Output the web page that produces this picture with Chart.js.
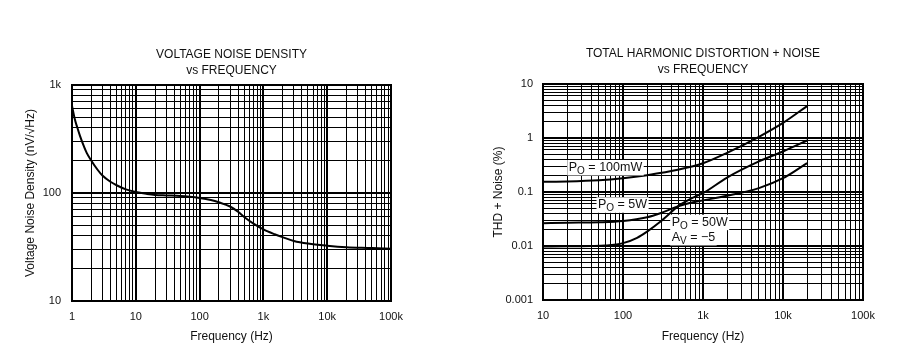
<!DOCTYPE html>
<html><head><meta charset="utf-8">
<script src="https://cdn.jsdelivr.net/npm/chart.js@4"></script>
<style>
html,body{margin:0;padding:0;background:#fff;}
#wrap{position:relative;width:912px;height:356px;overflow:hidden;background:#fff;}
.c{position:absolute;top:0;width:456px;height:356px;}
</style></head><body>
<div id="wrap">
<div class="c" style="left:0"><canvas id="noise" width="456" height="356"></canvas></div>
<div class="c" style="left:456px"><canvas id="thd" width="456" height="356"></canvas></div>
</div>
<script>
// ---------- DATA ----------
const noiseFreq    = [1, 1.1, 1.2, 1.33, 1.5, 1.7, 2, 2.5, 3, 4, 5, 7, 10, 15, 20, 30, 50, 70, 100, 150, 200, 300, 400, 500, 700, 1000, 1500, 2000, 3000, 5000, 10000, 20000, 50000, 100000];
const noiseDensity = [640, 490, 410, 340, 280, 235, 200, 165, 145, 127, 118, 108, 102, 98, 96, 95, 94, 92.5, 90, 86, 82, 75, 67, 60, 52, 46, 41.5, 39, 36, 34, 32.5, 31.5, 31, 30.5];

const thdFreq100mW = [10, 20, 50, 100, 200, 500, 1000, 2000, 5000, 10000, 20000];
const thd100mW     = [0.155, 0.157, 0.165, 0.18, 0.205, 0.26, 0.34, 0.53, 1.05, 1.9, 3.9];
const thdFreq5W    = [10, 20, 50, 100, 200, 300, 500, 700, 1000, 2000, 5000, 10000, 20000];
const thd5W        = [0.0265, 0.027, 0.0275, 0.029, 0.034, 0.041, 0.055, 0.063, 0.07, 0.085, 0.118, 0.18, 0.343];
const thdFreq50W   = [10, 20, 40, 60, 100, 150, 200, 300, 500, 700, 1000, 2000, 5000, 10000, 20000];
const thd50W       = [0.0098, 0.0099, 0.01, 0.0102, 0.0113, 0.0142, 0.0185, 0.029, 0.056, 0.075, 0.095, 0.185, 0.368, 0.563, 0.90];

const noiseXTicks  = [1, 10, 100, 1000, 10000, 100000];
const noiseXLabels = ['1', '10', '100', '1k', '10k', '100k'];
const noiseYTicks  = [10, 100, 1000];
const noiseYLabels = ['10', '100', '1k'];
const thdXTicks    = [10, 100, 1000, 10000, 100000];
const thdXLabels   = ['10', '100', '1k', '10k', '100k'];
const thdYTicks    = [0.001, 0.01, 0.1, 1, 10];
const thdYLabels   = ['0.001', '0.01', '0.1', '1', '10'];

const noiseTitle = ['VOLTAGE NOISE DENSITY', 'vs FREQUENCY'];
const thdTitle   = ['TOTAL HARMONIC DISTORTION + NOISE', 'vs FREQUENCY'];

const thdLabels = [
  {main: 'P', sub: 'O', rest: ' = 100mW', f: 21,   v: 0.245},
  {main: 'P', sub: 'O', rest: ' = 5W',    f: 48.7, v: 0.0499},
  {main: 'P', sub: 'O', rest: ' = 50W',   f: 406,  v: 0.0238},
  {main: 'A', sub: 'V', rest: ' = \u22125', f: 406, v: 0.0124}
];

// ---------- HELPERS ----------
const FONT = '"Liberation Sans", Arial, Helvetica, sans-serif';
Chart.defaults.font.family = FONT;
Chart.defaults.color = '#111';

function isDecade(v) {
  if (!(v > 0)) return false;
  const l = Math.log10(v);
  return Math.abs(l - Math.round(l)) < 1e-9;
}
function logGrid(min, max) {
  const out = [];
  for (let e = Math.round(Math.log10(min)); e < Math.round(Math.log10(max)); e++) {
    for (let m = 1; m <= 9; m++) out.push(parseFloat((m * Math.pow(10, e)).toPrecision(6)));
  }
  out.push(max);
  return out;
}
function labelFor(values, labels) {
  return (v) => {
    for (let i = 0; i < values.length; i++) {
      if (Math.abs(Math.log10(v) - Math.log10(values[i])) < 1e-9) return labels[i];
    }
    return '';
  };
}

const framePlugin = {
  id: 'frame',
  afterDatasetsDraw(chart) {
    const a = chart.chartArea, ctx = chart.ctx;
    ctx.save();
    ctx.strokeStyle = '#000';
    ctx.lineWidth = 2;
    ctx.strokeRect(Math.round(a.left), Math.round(a.top), Math.round(a.right - a.left), Math.round(a.bottom - a.top));
    ctx.restore();
  }
};
const titlePlugin = {
  id: 'twoLineTitle',
  afterDraw(chart, args, opts) {
    const a = chart.chartArea, ctx = chart.ctx;
    const cx = (a.left + a.right) / 2;
    ctx.save();
    ctx.fillStyle = '#111';
    ctx.font = '12px ' + FONT;
    ctx.textAlign = 'center';
    ctx.textBaseline = 'middle';
    opts.lines.forEach((t, i) => ctx.fillText(t, cx, a.top - 30 + i * 15.5));
    ctx.restore();
  }
};
const subLabelPlugin = {
  id: 'subLabels',
  afterDatasetsDraw(chart, args, opts) {
    if (!opts.items) return;
    const ctx = chart.ctx, xs = chart.scales.x, ys = chart.scales.y;
    ctx.save();
    opts.items.forEach(it => {
      const x = xs.getPixelForValue(it.f);
      const yb = ys.getPixelForValue(it.v);
      ctx.font = '12.5px ' + FONT;
      const w1 = ctx.measureText(it.main).width;
      const w3 = ctx.measureText(it.rest).width;
      ctx.font = '10px ' + FONT;
      const w2 = ctx.measureText(it.sub).width;
      const w = w1 + w2 + w3;
      ctx.fillStyle = '#fff';
      ctx.fillRect(x - 1.5, yb - 11, w + 3, 15.5);
      ctx.fillStyle = '#111';
      ctx.textBaseline = 'alphabetic';
      ctx.textAlign = 'left';
      ctx.font = '12.5px ' + FONT;
      ctx.fillText(it.main, x, yb);
      ctx.font = '10px ' + FONT;
      ctx.fillText(it.sub, x + w1, yb + 3);
      ctx.font = '12.5px ' + FONT;
      ctx.fillText(it.rest, x + w1 + w2, yb);
    });
    ctx.restore();
  }
};

function gridOpts() {
  return {
    color: '#000',
    lineWidth: (c) => (c.tick && isDecade(c.tick.value)) ? 2 : 1,
    drawTicks: false
  };
}

function makeChart(id, cfg) {
  const datasets = cfg.series.map(s => ({
    data: s.x.map((f, i) => ({x: f, y: s.y[i]})),
    borderColor: '#000',
    borderWidth: 2,
    pointRadius: 0,
    fill: false,
    cubicInterpolationMode: 'monotone'
  }));
  return new Chart(document.getElementById(id), {
    type: 'line',
    data: {datasets},
    plugins: [framePlugin, titlePlugin, subLabelPlugin],
    options: {
      responsive: false,
      animation: false,
      devicePixelRatio: 1,
      layout: {padding: {left: 0, right: cfg.padRight, top: cfg.padTop, bottom: 0}},
      plugins: {
        legend: {display: false},
        tooltip: {enabled: false},
        twoLineTitle: {lines: cfg.title},
        subLabels: {items: cfg.labels}
      },
      scales: {
        x: {
          type: 'logarithmic',
          min: cfg.xMin, max: cfg.xMax,
          grid: gridOpts(),
          border: {display: true, color: '#000', width: 2},
          afterBuildTicks: (s) => { s.ticks = logGrid(cfg.xMin, cfg.xMax).map(v => ({value: v, major: isDecade(v)})); },
          ticks: {autoSkip: false, maxRotation: 0, minRotation: 0, padding: 9, font: {size: 11}, color: '#111',
                  callback: labelFor(cfg.xTicks, cfg.xLabels)},
          title: {display: true, text: 'Frequency (Hz)', color: '#111', font: {size: 12}, padding: {top: 0, bottom: 12}},
          afterFit: (s) => { s.height = cfg.xHeight; s.paddingLeft = 0; s.paddingRight = 0; }
        },
        y: {
          type: 'logarithmic',
          min: cfg.yMin, max: cfg.yMax,
          grid: gridOpts(),
          border: {display: true, color: '#000', width: 2},
          afterBuildTicks: (s) => { s.ticks = logGrid(cfg.yMin, cfg.yMax).map(v => ({value: v, major: isDecade(v)})); },
          ticks: {autoSkip: false, padding: cfg.yTickPad, font: {size: 11}, color: '#111',
                  callback: labelFor(cfg.yTicks, cfg.yLabels)},
          title: {display: true, text: cfg.yTitle, color: '#111', font: {size: 12}, padding: {top: cfg.yTitlePad, bottom: 0}},
          afterFit: (s) => { s.width = cfg.yWidth; s.paddingTop = 0; s.paddingBottom = 0; }
        }
      }
    }
  });
}

makeChart('noise', {
  series: [{x: noiseFreq, y: noiseDensity}],
  xMin: 1, xMax: 100000, yMin: 10, yMax: 1000,
  xTicks: noiseXTicks, xLabels: noiseXLabels, yTicks: noiseYTicks, yLabels: noiseYLabels,
  title: noiseTitle, yTitle: 'Voltage Noise Density (nV/\u221AHz)',
  padRight: 65, padTop: 85, xHeight: 55, yWidth: 72, yTickPad: 11, yTitlePad: 23,
  labels: null
});
makeChart('thd', {
  series: [{x: thdFreq100mW, y: thd100mW}, {x: thdFreq5W, y: thd5W}, {x: thdFreq50W, y: thd50W}],
  xMin: 10, xMax: 100000, yMin: 0.001, yMax: 10,
  xTicks: thdXTicks, xLabels: thdXLabels, yTicks: thdYTicks, yLabels: thdYLabels,
  title: thdTitle, yTitle: 'THD + Noise (%)',
  padRight: 49, padTop: 84, xHeight: 56, yWidth: 87, yTickPad: 10, yTitlePad: 35,
  labels: thdLabels
});
</script>
</body></html>
